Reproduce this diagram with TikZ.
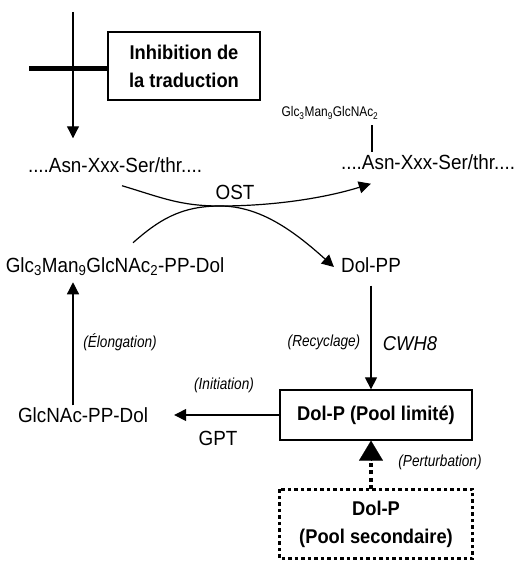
\documentclass[tikz,border=0pt]{standalone}
\usepackage{fontspec}
\setmainfont{Liberation Sans}[FakeStretch=0.92]
\newfontfamily\narrowfont{Liberation Sans}[FakeStretch=0.85]
\usetikzlibrary{arrows.meta}
\tikzset{
  mol/.style={inner sep=0pt, font=\fontsize{20.5}{23}\selectfont},
  enz/.style={inner sep=0pt, font=\fontsize{20.5}{23}\selectfont},
  tinymol/.style={inner sep=0pt, font=\narrowfont\fontsize{14}{16}\selectfont},
  note/.style={inner sep=0pt, font=\narrowfont\itshape\fontsize{16}{18}\selectfont},
  boxed/.style={draw, line width=1.3pt, inner sep=0pt, align=center,
    font=\bfseries\fontsize{19.9}{28}\selectfont},
  dotbox/.style={boxed, draw=none},
  arr/.style={line width=1.2pt, -{Triangle[length=12pt,width=12pt]}},
  thin/.style={line width=1.2pt},
  dotline/.style={line width=4pt, dash pattern=on 4pt off 3.5pt},
}
\begin{document}
\begin{tikzpicture}[x=1pt,y=-1pt]
\useasboundingbox (0,0) rectangle (521,561);

% translation block
\node[boxed, minimum width=152pt, minimum height=68pt] (inh) at (184,66)
  {Inhibition de\\la traduction};
\coordinate (top) at (73,12);
\coordinate (barL) at (29,69);

% peptide and glycans
\node[mol] (asnL) at (115,165) {....Asn-Xxx-Ser/thr....};
\node[mol] (asnR) at (428,162) {....Asn-Xxx-Ser/thr....};
\node[tinymol] (sug) at (330,113) {Glc\textsubscript{3}Man\textsubscript{9}GlcNAc\textsubscript{2}};
\coordinate (link) at (372,0);
\node[enz] (ost) at (235,192) {OST};
\node[mol] (glc3) at (115,267) {Glc\textsubscript{3}Man\textsubscript{9}GlcNAc\textsubscript{2}-PP-Dol};
\node[mol] (dolpp) at (371,265) {Dol-PP};
\node[mol] (glcnac) at (83,415) {GlcNAc-PP-Dol};

% dolichol phosphate pools
\node[boxed, minimum width=192pt, minimum height=50pt] (pool) at (376,415)
  {Dol-P (Pool limité)};
\node[dotbox, minimum width=192pt, minimum height=68pt] (sec) at (376,524)
  {Dol-P\\(Pool secondaire)};
\draw[line width=3.5pt, dash pattern=on 3.5pt off 3pt]
  (sec.north west) rectangle (sec.south east);

% labels
\node[note] (elong) at (120,342) {(Élongation)};
\node[note] (recyc) at (324,342) {(Recyclage)};
\node[enz, font=\itshape\fontsize{20}{23}\selectfont] (cwh) at (410,344) {CWH8};
\node[note] (init) at (224,385) {(Initiation)};
\node[enz] (gpt) at (218,438) {GPT};
\node[note] (pert) at (440,462) {(Perturbation)};

% connectors
\draw[arr] (top) -- (asnL.north -| top) [shorten >=19pt];
\draw[line width=5pt] (barL) -- (barL -| inh.west);
\draw[thin, shorten <=6pt, shorten >=2pt] (sug.south -| link) -- (asnR.north -| link);

\draw[arr] ([xshift=7pt,yshift=-13pt]asnL.south)
  .. controls +(40,12) and +(-40,0) .. (220,206)
  .. controls +(55,0) and +(-45,14) .. ([xshift=30pt,yshift=-14pt]asnR.south west);
\draw[arr] ([xshift=18pt,yshift=15pt]glc3.north)
  .. controls +(25,-22) and +(-40,0) .. (220,206)
  .. controls +(40,0) and +(-40,-36) .. ([xshift=-7pt,yshift=-2pt]dolpp.west);

\draw[arr, shorten <=13pt] (dolpp.south) -- (dolpp.south |- pool.north);
\draw[arr, shorten <=2pt, shorten >=6pt] (glcnac.north -| top) -- (glc3.south -| top);
\draw[arr, shorten >=26pt] (pool.west) -- (glcnac.east);
\draw[dotline] (sec.north -| dolpp) -- ([yshift=-18pt]pool.south -| dolpp);
\draw[-{Triangle[length=20pt,width=24pt]}, line width=0.1pt]
  ([yshift=-19pt]pool.south -| dolpp) -- (pool.south -| dolpp);
\end{tikzpicture}
\end{document}
